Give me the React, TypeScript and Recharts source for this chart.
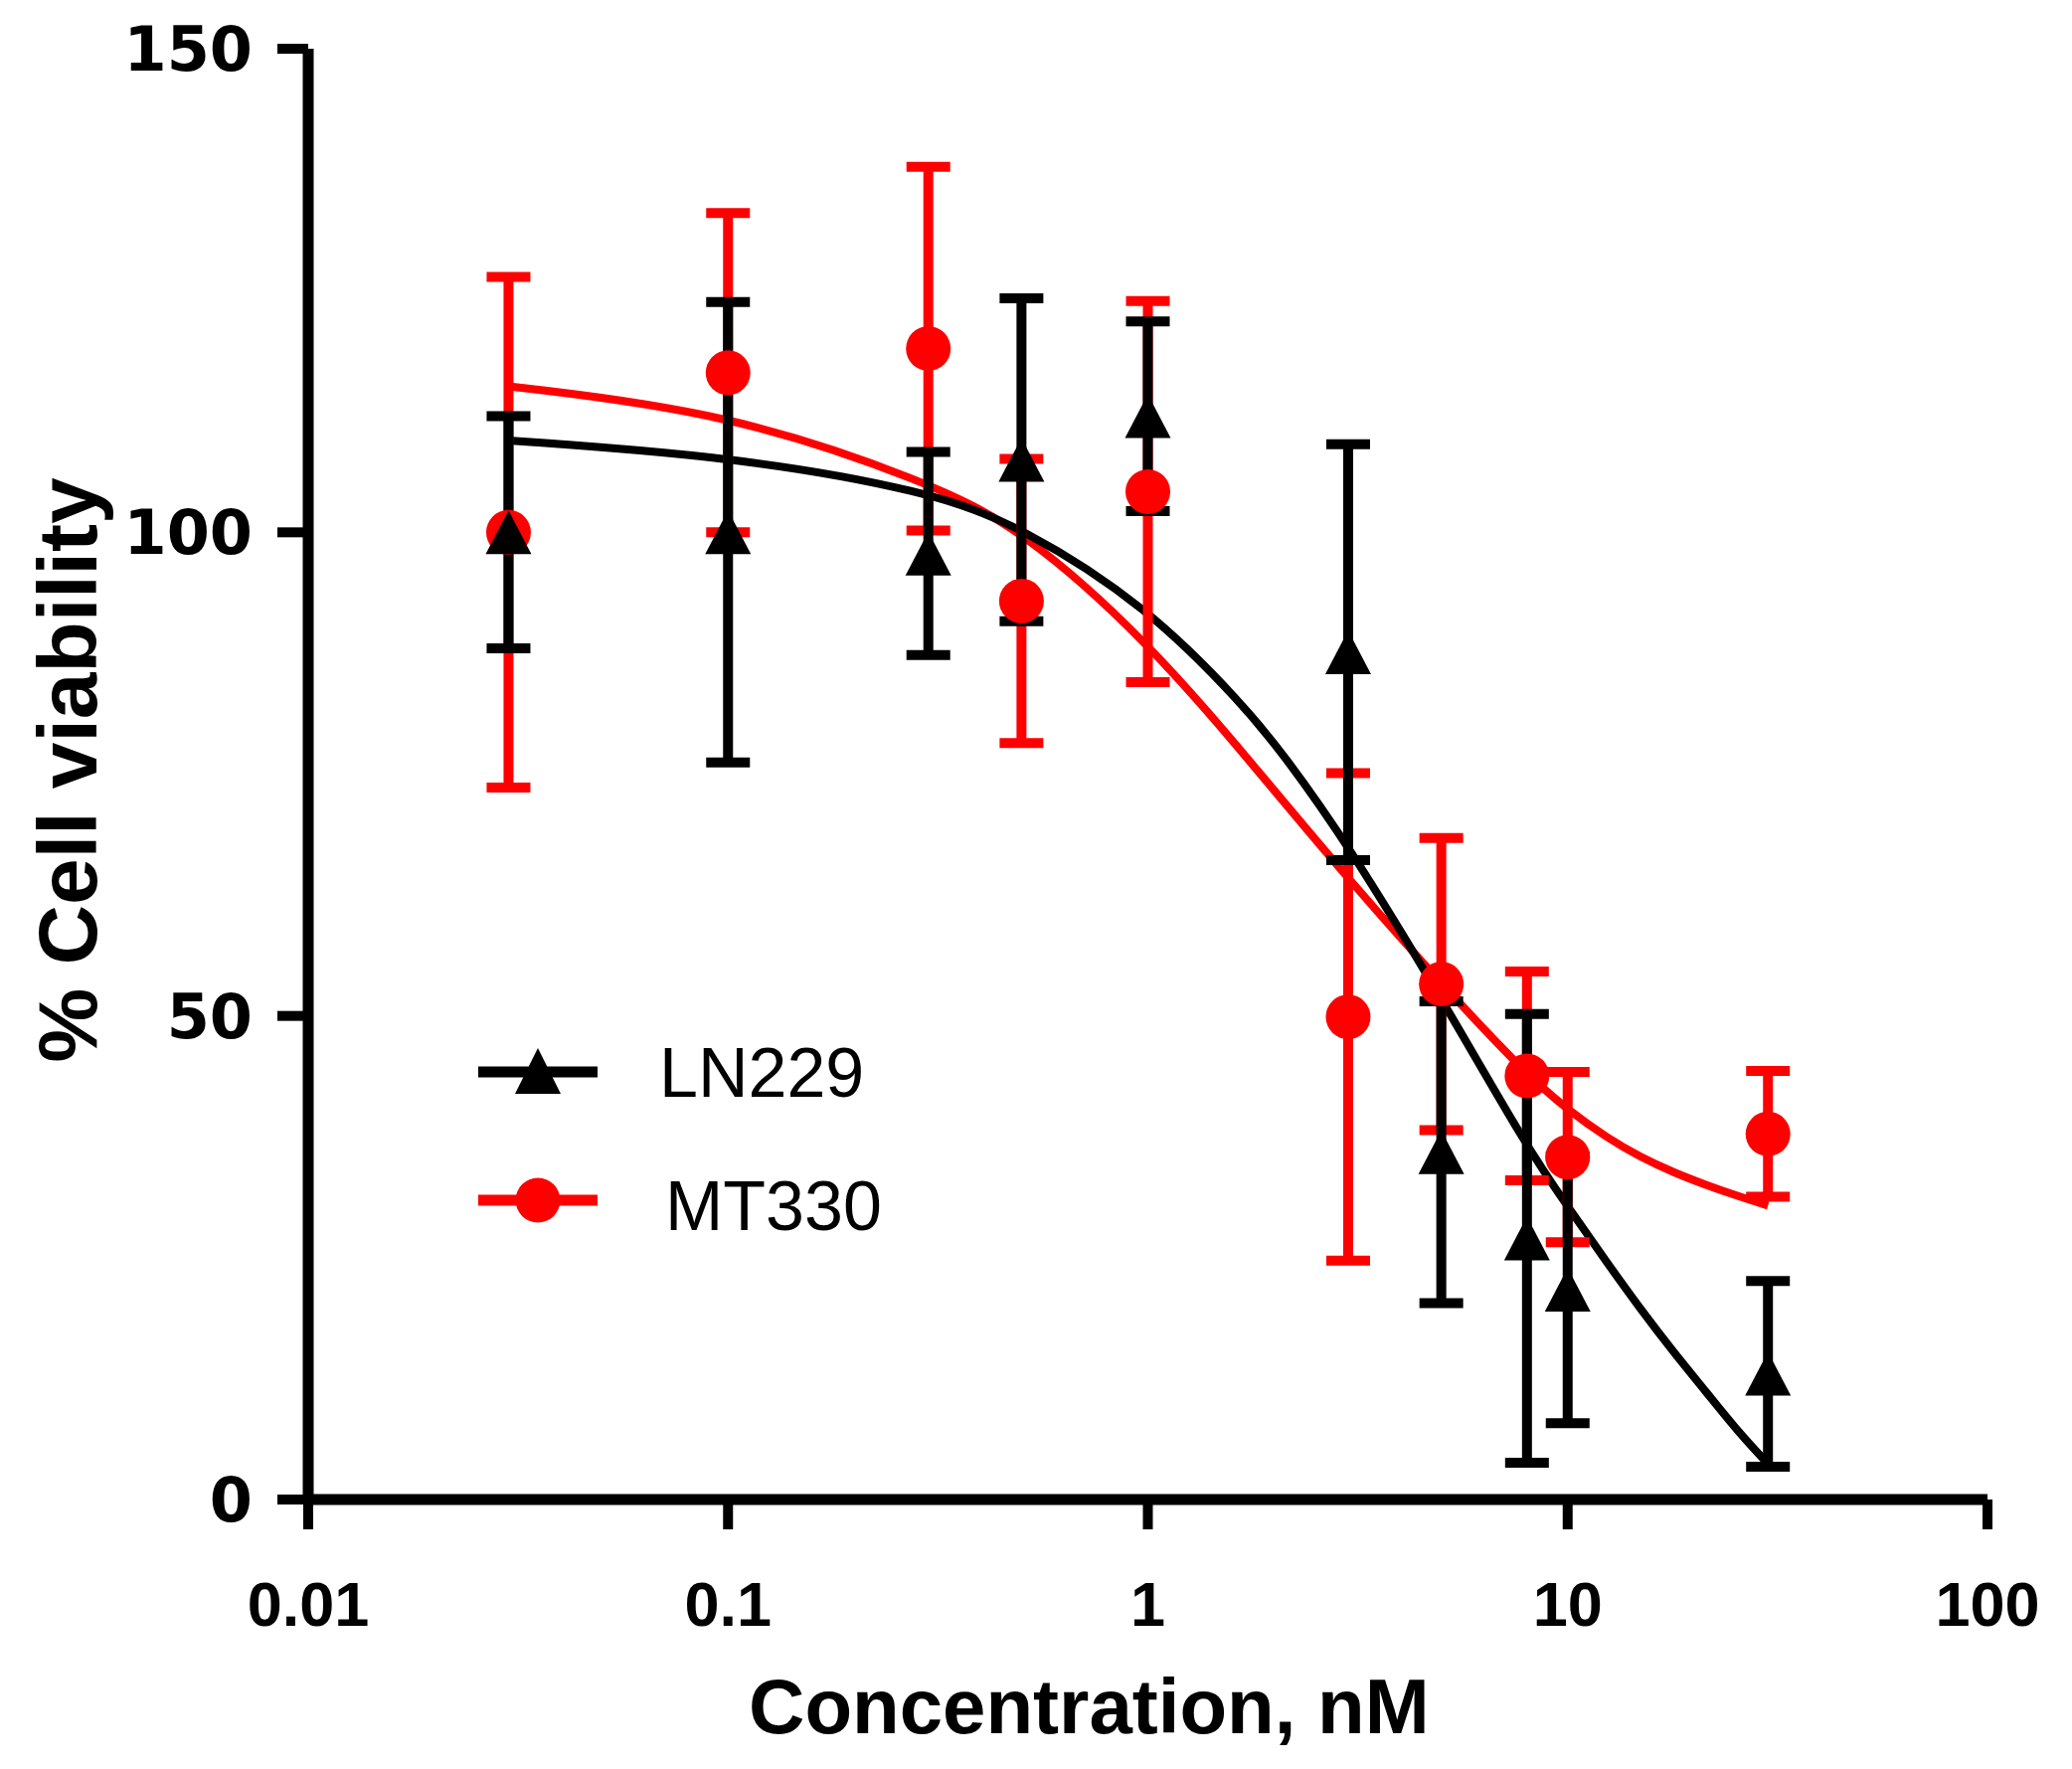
import { ComposedChart, Line, Scatter, ErrorBar, XAxis, YAxis, Legend } from "recharts";

const CONCENTRATIONS = [0.03, 0.1, 0.3, 0.5, 1, 3, 5, 8, 10, 30];
const LN229_MEAN = [100, 100, 97.8, 107.5, 112.0, 87.6, 35.9, 27.0, 21.7, 13.0];
const LN229_SD = [12, 23.8, 10.5, 16.7, 9.8, 21.5, 15.6, 23.2, 13.8, 9.6];
const MT330_MEAN = [100, 116.5, 119.0, 92.9, 104.2, 49.9, 53.3, 43.8, 35.4, 37.8];
const MT330_SD = [26.4, 16.5, 18.8, 14.7, 19.7, 25.2, 15.1, 10.8, 8.8, 6.5];

// fitted curves
const FIT_X = [0.03, 0.1, 0.3, 0.5, 1, 1.7, 2.1, 3, 5, 8, 10, 12.4, 14.9, 17.9, 21.4, 25.7, 30];
const LN229_FIT = [109.5, 107.9, 104.3, 100.6, 92.3, 82, 77.1, 67.7, 51.9, 36.4, 30.3, 24.5, 19.7, 15.2, 11.1, 6.8, 3.7];
const MT330_FIT = [115.1, 112.4, 105.2, 100.4, 88.7, 77, 72.2, 64.2, 53.3, 43.9, 40.3, 37.4, 35.4, 33.8, 32.5, 31.3, 30.4];

const X_TICKS = [0.01, 0.1, 1, 10, 100];
const Y_TICKS = [0, 50, 100, 150];

const toPoints = (means: number[], sds: number[]) =>
  CONCENTRATIONS.map((c, i) => ({ conc: c, v: means[i], err: sds[i] }));
const toCurve = (vals: number[]) => FIT_X.map((c, i) => ({ conc: c, v: vals[i] }));

const ln229Points = toPoints(LN229_MEAN, LN229_SD);
const mt330Points = toPoints(MT330_MEAN, MT330_SD);
const ln229Curve = toCurve(LN229_FIT);
const mt330Curve = toCurve(MT330_FIT);

const RED = "#ff0000";
const BLACK = "#000000";
const SANS = "Liberation Sans, Arial, sans-serif";

const Triangle = (props: any) => {
  const { cx, cy } = props;
  const w = 46;
  const h = 44;
  return (
    <path
      d={`M${cx},${cy - h / 2}L${cx + w / 2},${cy + h / 2}L${cx - w / 2},${cy + h / 2}Z`}
      fill={BLACK}
    />
  );
};

const Dot = (props: any) => {
  const { cx, cy } = props;
  return <circle cx={cx} cy={cy} r={22.5} fill={RED} />;
};

const LegendBox = () => (
  <svg width={480} height={240} style={{ display: "block", overflow: "visible" }}>
    <line x1={11} y1={48} x2={131} y2={48} stroke={BLACK} strokeWidth={11} />
    <path d="M71,24L94,70L48,70Z" fill={BLACK} />
    <text x={193} y={73} fontFamily={SANS} fontSize={70} fill={BLACK}>
      LN229
    </text>
    <line x1={11} y1={177} x2={131} y2={177} stroke={RED} strokeWidth={11} />
    <circle cx={71} cy={177} r={22.5} fill={RED} />
    <text x={199} y={207} fontFamily={SANS} fontSize={70} fill={BLACK}>
      MT330
    </text>
  </svg>
);

const YTitle = (props: any) => {
  const { viewBox } = props;
  const x = viewBox.x + 97;
  const y = viewBox.y + viewBox.height / 2 - 4;
  return (
    <text
      x={x}
      y={y}
      transform={`rotate(-90, ${x}, ${y})`}
      textAnchor="middle"
      fontFamily={SANS}
      fontWeight="bold"
      fontSize={84}
      fill={BLACK}
    >
      % Cell viability
    </text>
  );
};

const XTitle = (props: any) => {
  const { viewBox } = props;
  return (
    <text
      x={viewBox.x + viewBox.width * 0.465}
      y={viewBox.y + 235}
      textAnchor="middle"
      fontFamily={SANS}
      fontWeight="bold"
      fontSize={78}
      fill={BLACK}
    >
      Concentration, nM
    </text>
  );
};

export default function App() {
  return (
    <div style={{ position: "absolute", left: 0, top: 0, background: "#fff" }}>
      <ComposedChart width={2084} height={1779} margin={{ top: 49, right: 85, bottom: 0, left: 0 }}>
        <XAxis
          type="number"
          dataKey="conc"
          scale="log"
          domain={[0.01, 100]}
          ticks={X_TICKS}
          interval={0}
          allowDataOverflow
          height={271}
          axisLine={{ stroke: BLACK, strokeWidth: 11 }}
          tickLine={{ stroke: BLACK, strokeWidth: 10 }}
          tickSize={30}
          tickMargin={52}
          tick={{ fontSize: 63, fontFamily: SANS, fontWeight: "bold", fill: BLACK }}
          label={{ content: XTitle }}
        />
        <YAxis
          type="number"
          dataKey="v"
          domain={[0, 150]}
          ticks={Y_TICKS}
          interval={0}
          width={310}
          axisLine={{ stroke: BLACK, strokeWidth: 11 }}
          tickLine={{ stroke: BLACK, strokeWidth: 10 }}
          tickSize={31}
          tickMargin={25}
          tick={{ fontSize: 62, fontFamily: "DejaVu Sans, sans-serif", fontWeight: "bold", fill: BLACK }}
          label={{ content: YTitle }}
        />
        <Line
          data={mt330Curve}
          dataKey="v"
          type="basis"
          stroke={RED}
          strokeWidth={8}
          dot={false}
          activeDot={false}
          isAnimationActive={false}
        />
        <Line
          data={ln229Curve}
          dataKey="v"
          type="basis"
          stroke={BLACK}
          strokeWidth={8}
          dot={false}
          activeDot={false}
          isAnimationActive={false}
        />
        <Scatter data={mt330Points} dataKey="v" fill={RED} shape={Dot} isAnimationActive={false}>
          <ErrorBar dataKey="err" direction="y" width={22} stroke={RED} strokeWidth={10} isAnimationActive={false} />
        </Scatter>
        <Scatter data={ln229Points} dataKey="v" fill={BLACK} shape={Triangle} isAnimationActive={false}>
          <ErrorBar dataKey="err" direction="y" width={22} stroke={BLACK} strokeWidth={10} isAnimationActive={false} />
        </Scatter>
        <Legend
          layout="vertical"
          align="center"
          verticalAlign="middle"
          content={LegendBox}
          wrapperStyle={{ left: 470, top: 1030, width: 480, height: 240 }}
        />
      </ComposedChart>
    </div>
  );
}
